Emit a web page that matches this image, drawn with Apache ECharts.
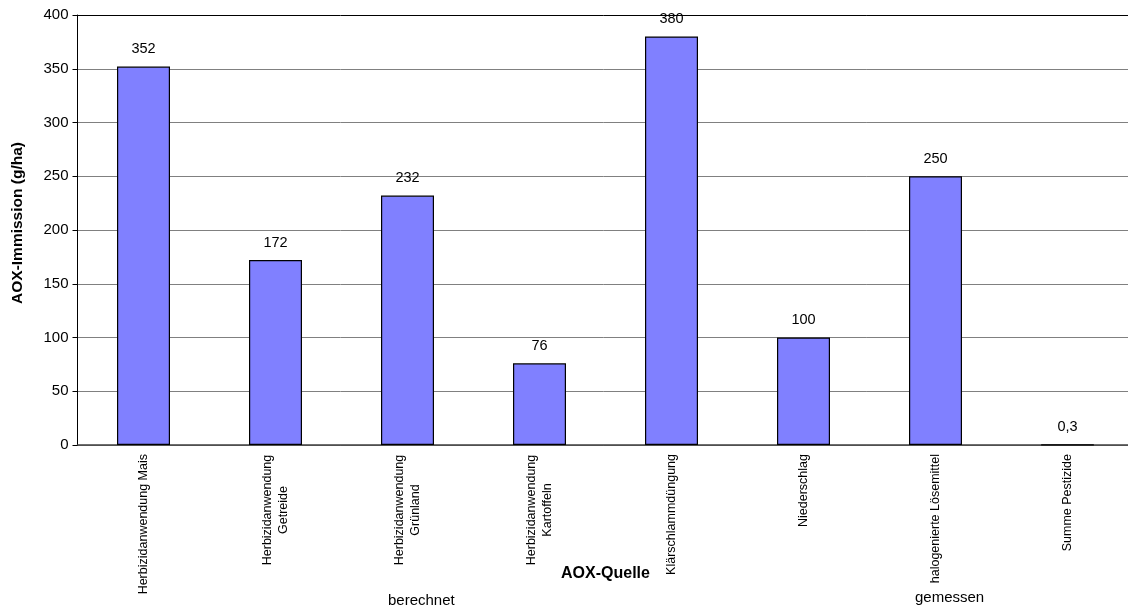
<!DOCTYPE html>
<html>
<head>
<meta charset="utf-8">
<script src="https://cdn.jsdelivr.net/npm/echarts@6/dist/echarts.min.js"></script>
<style>
html,body{margin:0;padding:0;background:#fff;}
#chart{width:1128px;height:614px;}
</style>
</head>
<body>
<div id="chart"></div>
<script>
const categories = [
  'Herbizidanwendung Mais',
  'Herbizidanwendung\nGetreide',
  'Herbizidanwendung\nGrünland',
  'Herbizidanwendung\nKartoffeln',
  'Klärschlammdüngung',
  'Niederschlag',
  'halogenierte Lösemittel',
  'Summe Pestizide'
];
const values = [352, 172, 232, 76, 380, 100, 250, 0.3];
const yTicks = [0, 50, 100, 150, 200, 250, 300, 350, 400];
const groupLabels = ['berechnet', 'gemessen'];
const xName = 'AOX-Quelle';
const yName = 'AOX-Immission (g/ha)';

const FONT = 'Liberation Sans, Arial, sans-serif';
const chart = echarts.init(document.getElementById('chart'));
const gridColors = yTicks.map((v, i) => i === yTicks.length - 1 ? '#000000' : '#808080');

chart.setOption({
  backgroundColor: '#ffffff',
  animation: false,
  textStyle: { fontFamily: FONT, color: '#000' },
  grid: { left: 77.5, top: 15, width: 1056, height: 430, containLabel: false, outerBoundsMode: 'none' },
  xAxis: {
    type: 'category',
    data: categories,
    name: xName,
    nameLocation: 'middle',
    nameGap: 121,
    nameMoveOverlap: false,
    nameTextStyle: { fontFamily: FONT, fontSize: 16, fontWeight: 'bold', color: '#000' },
    axisLine: { lineStyle: { color: '#404040', width: 1.5 } },
    axisTick: { alignWithLabel: false, length: 4, lineStyle: { color: '#000' } },
    axisLabel: {
      rotate: 90,
      interval: 0,
      margin: 9,
      fontFamily: FONT,
      fontSize: 12.5,
      lineHeight: 15,
      color: '#000',
      formatter: function (v) {
        if (v.indexOf('\n') < 0) return v;
        return v.split('\n').map(s => '{c|' + s + '}').join('\n');
      },
      rich: {
        c: { width: 112, align: 'center', fontFamily: FONT, fontSize: 12.5, lineHeight: 15.5, color: '#000' }
      }
    },
    splitLine: { show: false }
  },
  yAxis: {
    type: 'value',
    min: 0,
    max: 400,
    interval: 50,
    name: yName,
    nameLocation: 'middle',
    nameGap: 52,
    nameMoveOverlap: false,
    nameTextStyle: { fontFamily: FONT, fontSize: 15.5, fontWeight: 'bold', color: '#000', padding: [0, 0, 0, 14] },
    axisLine: { show: true, lineStyle: { color: '#000', width: 1 } },
    axisTick: { show: true, length: 5, lineStyle: { color: '#000' } },
    axisLabel: { margin: 9, fontFamily: FONT, fontSize: 15, color: '#000' },
    splitLine: { show: true, lineStyle: { color: gridColors, width: 1 } }
  },
  series: [{
    type: 'bar',
    data: values,
    barWidth: 53,
    itemStyle: { color: '#8080FF', borderColor: '#000', borderWidth: 1.2 },
    label: {
      show: true,
      position: 'top',
      distance: 10,
      fontFamily: FONT,
      fontSize: 14.5,
      color: '#000',
      formatter: p => String(p.value).replace('.', ',')
    }
  }],
  graphic: [
    { type: 'text', left: 388, top: 593, style: { text: groupLabels[0], font: '15px ' + FONT, fill: '#000' } },
    { type: 'text', left: 915, top: 590, style: { text: groupLabels[1], font: '15px ' + FONT, fill: '#000' } }
  ]
});
</script>
</body>
</html>
